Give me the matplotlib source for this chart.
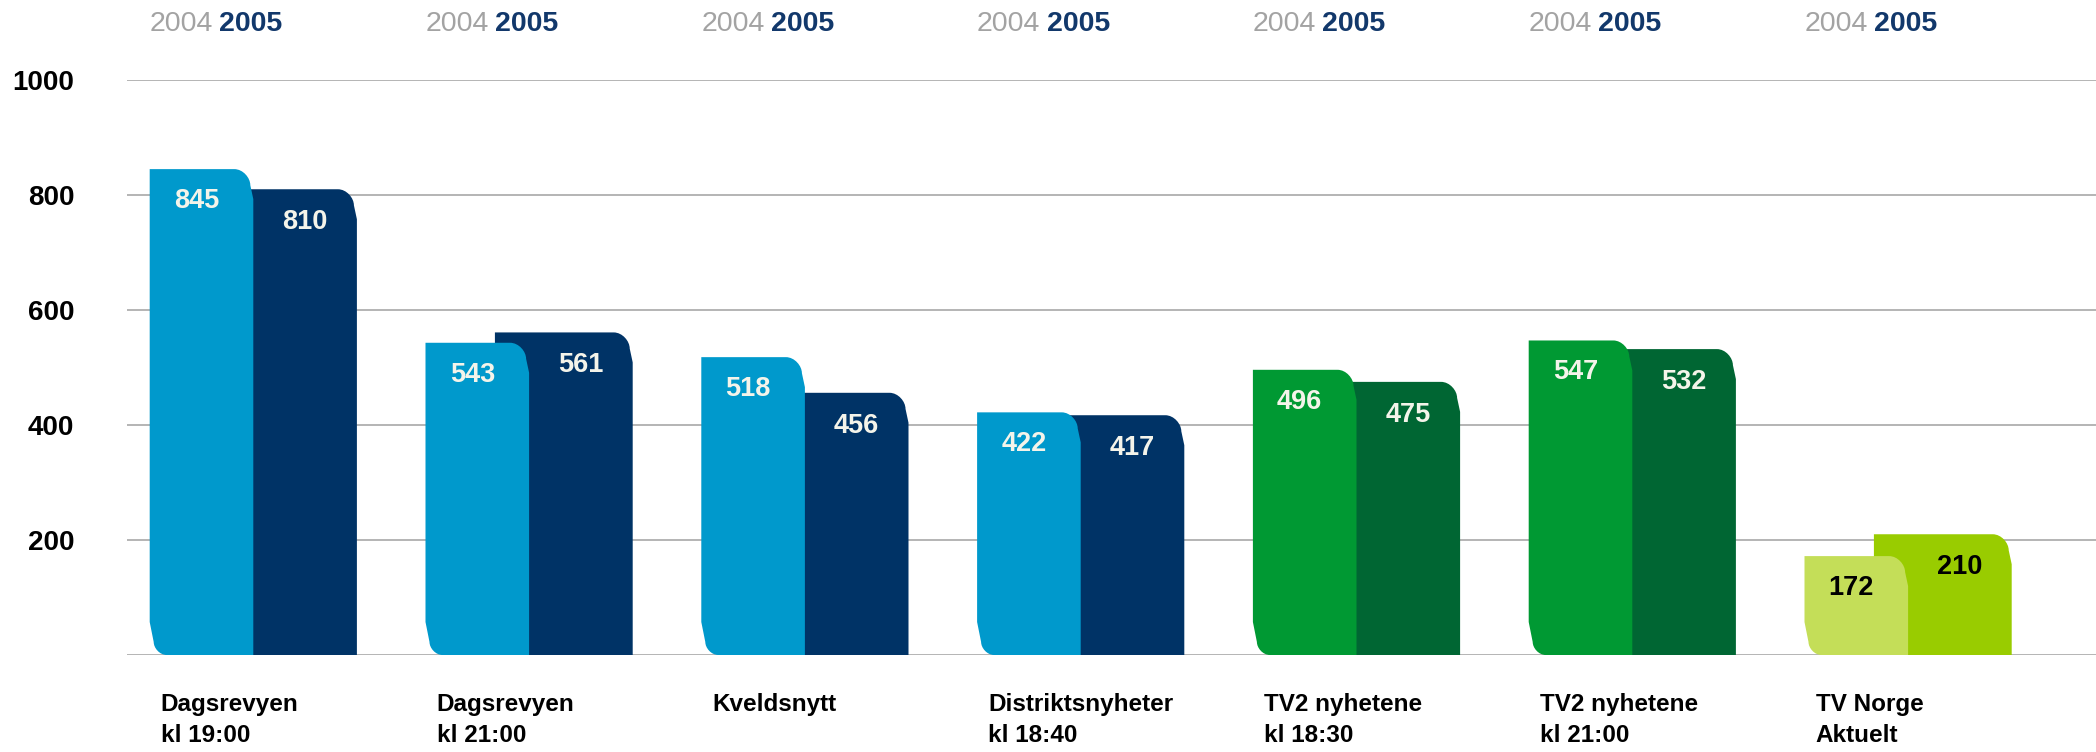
import matplotlib
matplotlib.use("Agg")
import matplotlib.pyplot as plt
from matplotlib.path import Path
from matplotlib.patches import PathPatch

# ---- data ----
categories = ["Dagsrevyen\nkl 19:00", "Dagsrevyen\nkl 21:00", "Kveldsnytt",
              "Distriktsnyheter\nkl 18:40", "TV2 nyhetene\nkl 18:30",
              "TV2 nyhetene\nkl 21:00", "TV Norge\nAktuelt"]
values_2004 = [845, 543, 518, 422, 496, 547, 172]
values_2005 = [810, 561, 456, 417, 475, 532, 210]
year_labels = ["2004", "2005"]
yticks = [200, 400, 600, 800, 1000]

# ---- styles ----
c04 = ["#0099CC", "#0099CC", "#0099CC", "#0099CC", "#009933", "#009933", "#C4DE58"]
c05 = ["#003366", "#003366", "#003366", "#003366", "#006633", "#006633", "#99CC00"]
txtc = ["#F4F4EA"] * 6 + ["#000000"]
FONT = "Liberation Sans"

W, H = 2096, 752
fig = plt.figure(figsize=(W / 100, H / 100), dpi=100)
ax_left, ax_base, ax_top = 127, 655, 80
ax = fig.add_axes([ax_left / W, (H - ax_base) / H, 1 - ax_left / W, (ax_base - ax_top) / H])
group_px = 275.8
first_px = 149.7
xmin = -(first_px - ax_left) / group_px
xmax = xmin + (W - ax_left) / group_px
ax.set_xlim(xmin, xmax)
ax.set_ylim(0, 1000)
hx = 1 / group_px                 # one pixel in x data units
hy = 1000 / (ax_base - ax_top)    # one pixel in y data units
w = 103.6 * hx                    # bar width

for s in ax.spines.values():
    s.set_visible(False)
ax.set_xticks([])
ax.set_yticks(yticks)
ax.set_yticklabels([str(t) for t in yticks], fontsize=20, fontweight="bold",
                   family=FONT, color="black")
ax.tick_params(axis="y", length=0, pad=38)
for t in [0] + yticks:
    ax.axhline(t, color="#A8A8A8", lw=1.2, zorder=1)

K = 0.55


def bar_path(x0, x1, top, round_bottom_left):
    r = 16
    verts = [(x0, top), (x1 - (3 + r) * hx, top),
             (x1 - (3 + r - K * r) * hx, top), (x1 - 3 * hx, top - K * r * hy),
             (x1 - 3 * hx, top - r * hy),
             (x1, top - 30 * hy), (x1, 0)]
    codes = [Path.MOVETO, Path.LINETO, Path.CURVE4, Path.CURVE4, Path.CURVE4,
             Path.LINETO, Path.LINETO]
    if round_bottom_left:
        rb = 13
        verts += [(x0 + (4 + rb) * hx, 0), (x0 + (4 + rb - K * rb) * hx, 0),
                  (x0 + 4 * hx, K * rb * hy), (x0 + 4 * hx, rb * hy), (x0, 33 * hy)]
        codes += [Path.LINETO, Path.CURVE4, Path.CURVE4, Path.CURVE4, Path.LINETO]
    else:
        verts += [(x0, 0)]
        codes += [Path.LINETO]
    verts += [(x0, top)]
    codes += [Path.CLOSEPOLY]
    return Path(verts, codes)


for i, (cat, v4, v5) in enumerate(zip(categories, values_2004, values_2005)):
    x0 = i
    # 2005 bar (behind)
    p5 = bar_path(x0 + 0.67 * w, x0 + 2 * w, v5, False)
    ax.add_patch(PathPatch(p5, facecolor=c05[i], edgecolor="none", zorder=2))
    # 2004 bar (front)
    p4 = bar_path(x0, x0 + w, v4, True)
    ax.add_patch(PathPatch(p4, facecolor=c04[i], edgecolor="none", zorder=3))
    # value labels
    ax.text(x0 + 0.5 * w - 5 * hx, v4 - 32 * hy, str(v4), ha="center", va="center",
            fontsize=19.5, fontweight="bold", family=FONT, color=txtc[i], zorder=5)
    ax.text(x0 + 1.5 * w, v5 - 33 * hy, str(v5), ha="center", va="center",
            fontsize=19.5, fontweight="bold", family=FONT, color=txtc[i], zorder=5)
    # year labels on top
    ax.text(x0, 1000 + 56 * hy, year_labels[0], ha="left", va="center", fontsize=20.5,
            family=FONT, color="#A3A3A3", clip_on=False)
    ax.text(x0 + 0.67 * w, 1000 + 56 * hy, year_labels[1], ha="left", va="center",
            fontsize=20.5, fontweight="bold", family=FONT, color="#12386B", clip_on=False)
    # category labels
    ax.text(x0 + 11 * hx, -38 * hy, cat, ha="left", va="top", fontsize=17.5,
            fontweight="bold", family=FONT, color="black", linespacing=1.42,
            clip_on=False)

fig.savefig("out.png", dpi=100)
